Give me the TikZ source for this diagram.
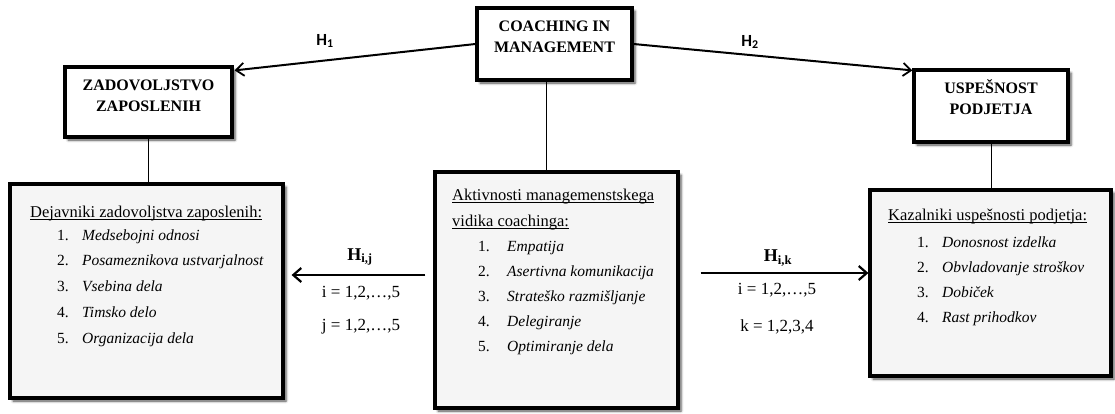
\documentclass[tikz,border=0pt]{standalone}
\usepackage{fontspec}
\setmainfont{Liberation Serif}
\newfontfamily\labelsans{Carlito}
\usetikzlibrary{shadows.blur,arrows.meta}

% underline that sits just under the baseline, across descenders
\newcommand\headline[1]{\setbox0=\hbox{#1}\rlap{\rule[-2.4pt]{\wd0}{0.7pt}}\box0}

\tikzset{
  boxshadow/.style={blur shadow={shadow xshift=3pt, shadow yshift=-3pt,
      shadow blur radius=2.5pt, shadow opacity=70}},
  titlebox/.style={draw, line width=3.2pt, fill=white, boxshadow, inner sep=0pt},
  listbox/.style={draw, line width=3.2pt, fill=black!4, boxshadow, inner sep=0pt},
  titletext/.style={font=\fontsize{16}{21}\selectfont\bfseries, align=center,
      inner sep=0pt, text depth=0pt, anchor=south},
  headtext/.style={font=\fontsize{16.5}{20}\selectfont, anchor=base west, inner sep=0pt},
  itemtext/.style={font=\fontsize{15.5}{18}\selectfont, anchor=base west, inner sep=0pt},
  hyp/.style={font=\labelsans\bfseries\fontsize{17}{20}\selectfont, inner sep=0pt},
  hypidx/.style={font=\fontsize{18}{21}\selectfont\bfseries, inner sep=0pt},
  rangetext/.style={font=\fontsize{17}{20}\selectfont, inner sep=0pt},
  link/.style={line width=0.9pt},
  mainarrow/.style={line width=2pt,
      -{Straight Barb[length=8pt,width=13pt,line width=1.8pt]}},
  sidearrow/.style={line width=2.5pt,
      -{Straight Barb[length=8pt,width=14pt,line width=2.2pt]}},
}

\begin{document}
\begin{tikzpicture}[x=1pt,y=-1pt]
\useasboundingbox (0,0) rectangle (1115,413);

% ---- top level boxes
\node[titlebox, minimum width=155pt, minimum height=72pt] (coach) at (554.5,44) {};
\node[titlebox, minimum width=167pt, minimum height=70pt] (zad) at (148.5,102) {};
\node[titlebox, minimum width=154pt, minimum height=72pt] (usp) at (991,106) {};

\node[titletext] (coachtxt) at (554.5,53) {COACHING IN\\MANAGEMENT};
\node[titletext] (zadtxt) at (148.5,112) {ZADOVOLJSTVO\\ZAPOSLENIH};
\node[titletext] (usptxt) at (991,115) {USPEŠNOST\\PODJETJA};

% ---- lower list boxes
\node[listbox, minimum width=273pt, minimum height=214pt] (dej) at (146.5,291) {};
\node[listbox, minimum width=243pt, minimum height=236pt] (act) at (556.5,290) {};
\node[listbox, minimum width=241pt, minimum height=186pt] (kaz) at (990.5,283) {};

% left list
\node[headtext] (dejhead) at (30,217) {\headline{Dejavniki zadovoljstva zaposlenih:}};
\foreach \txt [count=\k] in {Medsebojni odnosi, Posameznikova ustvarjalnost,
    Vsebina dela, Timsko delo, Organizacija dela}
  \node[itemtext] (dej-\k) at (57,{240+25.9*(\k-1)})
    {\makebox[25pt][l]{\k.}\textit{\txt}};

% centre list
\node[headtext] (acthead1) at (452,200) {\headline{Aktivnosti managemenstskega}};
\node[headtext] (acthead2) at (452,226) {\headline{vidika coachinga:}};
\foreach \txt [count=\k] in {Empatija, Asertivna komunikacija,
    Strateško razmišljanje, Delegiranje, Optimiranje dela}
  \node[itemtext] (act-\k) at (478,{251+25.2*(\k-1)})
    {\makebox[29pt][l]{\k.}\textit{\txt}};

% right list
\node[headtext] (kazhead) at (888,220) {\headline{Kazalniki uspešnosti podjetja:}};
\foreach \txt [count=\k] in {Donosnost izdelka, Obvladovanje stroškov,
    Dobiček, Rast prihodkov}
  \node[itemtext] (kaz-\k) at (917,{247+25.3*(\k-1)})
    {\makebox[25pt][l]{\k.}\textit{\txt}};

% ---- vertical links
\draw[link] (zad.south) -- (zad.south |- dej.north);
\draw[link] ([xshift=-8pt]coach.south) -- ([xshift=-8pt]coach.south |- act.north);
\draw[link] (usp.south) -- (usp.south |- kaz.north);

% ---- hypotheses H1, H2
\draw[mainarrow] (coach.west) -- ([xshift=1pt,yshift=-5pt]zad.north east);
\draw[mainarrow] (coach.east) -- ([yshift=-2pt]usp.north west);
\node[hyp] (h1) at (325,41) {H\textsubscript{1}};
\node[hyp] (h2) at (750,42) {H\textsubscript{2}};

% ---- hypotheses H_ij, H_ik
\coordinate (aw) at ([yshift=15pt]act.west);
\coordinate (ae) at ([yshift=17pt]act.east);
\draw[sidearrow] ([xshift=-8pt]aw) -- ([xshift=7pt]aw -| dej.east);
\draw[sidearrow] ([xshift=21pt]ae) -- (ae -| kaz.west);

\node[hypidx] (hij) at (360,257) {H\textsubscript{i,j}};
\node[rangetext] (hij-i) at (361,293) {i = 1,2,…,5};
\node[rangetext] (hij-j) at (361,327) {j = 1,2,…,5};

\node[hypidx] (hik) at (778,258) {H\textsubscript{i,k}};
\node[rangetext] (hik-i) at (777,290) {i = 1,2,…,5};
\node[rangetext] (hik-k) at (777,327) {k = 1,2,3,4};
\end{tikzpicture}
\end{document}
